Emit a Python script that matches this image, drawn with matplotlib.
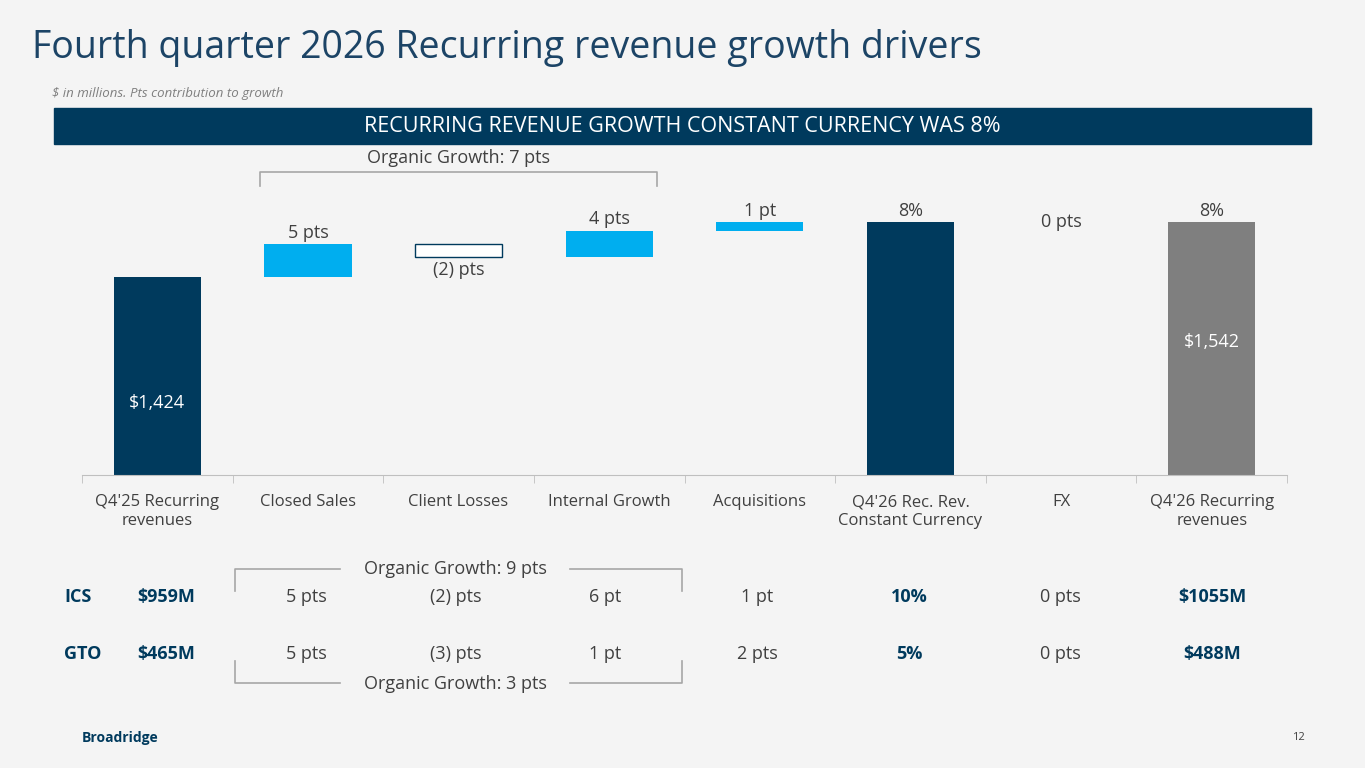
import matplotlib.pyplot as plt
from matplotlib.patches import Rectangle

plt.rcParams['font.family'] = ['Open Sans', 'DejaVu Sans']

categories = ["Q4'25 Recurring\nrevenues", "Closed Sales", "Client Losses", "Internal Growth",
              "Acquisitions", "Q4'26 Rec. Rev.\nConstant Currency", "FX", "Q4'26 Recurring\nrevenues"]
start_value = 1424
deltas = [71, -28, 57, 18]
delta_labels = ["5 pts", "(2) pts", "4 pts", "1 pt"]
cc_label = "8%"
fx_label = "0 pts"
end_value = 1542
end_label = "8%"

seg_rows = ["ICS", "GTO"]
seg_start = ["$959M", "$465M"]
seg_values = [["5 pts", "(2) pts", "6 pt", "1 pt", "10%", "0 pts", "$1055M"],
              ["5 pts", "(3) pts", "1 pt", "2 pts", "5%", "0 pts", "$488M"]]
seg_organic = ["Organic Growth: 9 pts", "Organic Growth: 3 pts"]

W, H = 1365, 768
bg = "#f4f4f4"
navy = "#003a5d"
cyan = "#00aeef"
gray = "#7f7f7f"
txt = "#404040"

fig = plt.figure(figsize=(W / 100, H / 100), dpi=100, facecolor=bg)

def fx(x):
    return x / W

def fy(y):
    return 1 - y / H

fig.text(fx(32), fy(48), "Fourth quarter 2026 Recurring revenue growth drivers", fontsize=27,
         color="#1c4466", va="center")
fig.text(fx(52), fy(93), "$ in millions. Pts contribution to growth", fontsize=9.5, style="italic",
         color=gray, va="center")
fig.patches.append(Rectangle((fx(54), fy(144)), fx(1311 - 54), 36 / H, transform=fig.transFigure,
                             color=navy))
fig.text(fx(682), fy(127), "RECURRING REVENUE GROWTH CONSTANT CURRENCY WAS 8%", fontsize=15.5,
         color="white", ha="center", va="center")

ax = fig.add_axes([fx(82), fy(475), fx(1287 - 82), 315 / H])
ax.set_facecolor(bg)
ax.set_xlim(-0.5, 7.5)
ax.set_ylim(1000, 1000 + 315 / 0.466)
bw = 0.58

ax.bar(0, start_value - 1000, bottom=1000, width=bw, color=navy)
ax.text(0, 1155, f"${start_value:,}", ha="center", va="center", color="white", fontsize=13)

level = start_value
for i, (d, lab) in enumerate(zip(deltas, delta_labels), start=1):
    lo, hi = min(level, level + d), max(level, level + d)
    if d < 0:
        ax.bar(i, hi - lo, bottom=lo, width=bw, facecolor="white", edgecolor=navy, linewidth=1)
        ax.text(i, lo - 8, lab, ha="center", va="top", color=txt, fontsize=13)
    else:
        ax.bar(i, hi - lo, bottom=lo, width=bw, color=cyan)
        ax.text(i, hi + 5, lab, ha="center", va="bottom", color=txt, fontsize=13)
    level += d

ax.bar(5, level - 1000, bottom=1000, width=bw, color=navy)
ax.text(5, level + 5, cc_label, ha="center", va="bottom", color=txt, fontsize=13)
ax.text(6, level, fx_label, ha="center", va="center", color=txt, fontsize=13)
ax.bar(7, end_value - 1000, bottom=1000, width=bw, color=gray)
ax.text(7, end_value + 5, end_label, ha="center", va="bottom", color=txt, fontsize=13)
ax.text(7, 1285, f"${end_value:,}", ha="center", va="center", color="white", fontsize=13)

# organic growth bracket
top = 1000 + (475 - 172) / 0.466
ax.plot([0.68, 0.68, 3.32, 3.32], [top - 30, top, top, top - 30], color="#a6a6a6", lw=1.2, clip_on=False)
ax.text(2, top + 10, "Organic Growth: 7 pts", ha="center", va="bottom", color=txt, fontsize=13)

for s in ["top", "left", "right"]:
    ax.spines[s].set_visible(False)
ax.spines["bottom"].set_color("#bfbfbf")
ax.set_yticks([])
ax.set_xticks([i + 0.5 for i in range(-1, 8)], minor=True)
ax.tick_params(axis="x", which="minor", length=6, color="#bfbfbf")
ax.set_xticks(range(8))
ax.set_xticklabels(categories, fontsize=12, color=txt)
ax.tick_params(axis="x", which="major", length=0, pad=14)

col_x = [306, 456, 605, 757, 909, 1060, 1212]
row_y = [597, 654]
for r in range(2):
    fig.text(fx(64), fy(row_y[r]), seg_rows[r], fontsize=13, weight="bold", color=navy, va="center")
    fig.text(fx(166), fy(row_y[r]), seg_start[r], fontsize=13, weight="bold", color=navy,
             va="center", ha="center")
    for c, v in enumerate(seg_values[r]):
        bold = c in (4, 6)
        fig.text(fx(col_x[c]), fy(row_y[r]), v, fontsize=13, ha="center", va="center",
                 weight="bold" if bold else "normal", color=navy if bold else txt)

# segment brackets
bc = "#a6a6a6"
for yb, ye, ylab in [(569, 591, 569), (683, 661, 684)]:
    fig.lines.append(plt.Line2D([fx(235), fx(235), fx(340)], [fy(ye), fy(yb), fy(yb)],
                                transform=fig.transFigure, color=bc, lw=1.2))
    fig.lines.append(plt.Line2D([fx(570), fx(682), fx(682)], [fy(yb), fy(yb), fy(ye)],
                                transform=fig.transFigure, color=bc, lw=1.2))
fig.text(fx(455), fy(569), seg_organic[0], fontsize=13, ha="center", va="center", color=txt)
fig.text(fx(455), fy(684), seg_organic[1], fontsize=13, ha="center", va="center", color=txt)

fig.text(fx(82), fy(738), "Broadridge", fontsize=10, weight="bold", color=navy, va="center")
fig.text(fx(1305), fy(738), "12", fontsize=8, color=txt, ha="right", va="center")

fig.savefig("out.png", dpi=100, facecolor=bg)
